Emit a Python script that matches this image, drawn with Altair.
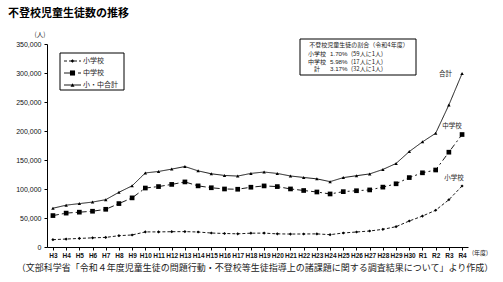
import altair as alt
import pandas as pd

years = ["H3", "H4", "H5", "H6", "H7", "H8", "H9", "H10", "H11", "H12", "H13", "H14",
         "H15", "H16", "H17", "H18", "H19", "H20", "H21", "H22", "H23", "H24", "H25",
         "H26", "H27", "H28", "H29", "H30", "R1", "R2", "R3", "R4"]
elementary = [12645, 13710, 14769, 15786, 16569, 19498, 20765, 26017, 26047, 26373, 26511,
              25869, 24077, 23318, 22709, 23825, 23927, 22652, 22327, 22463, 22622, 21243,
              24175, 25864, 27583, 30448, 35032, 44841, 53350, 63350, 81498, 105112]
junior = [54172, 58421, 60039, 61663, 65022, 74853, 84701, 101675, 104180, 107913, 112211,
          105383, 102149, 100040, 99578, 103069, 105328, 104153, 100105, 97428, 94836, 91446,
          95442, 97033, 98408, 103235, 108999, 119687, 127922, 132777, 163442, 193936]
total = [66817, 72131, 74808, 77449, 81591, 94351, 105466, 127692, 130227, 134286, 138722,
         131252, 126226, 123358, 122287, 126894, 129255, 126805, 122432, 119891, 117458, 112689,
         119617, 122897, 125991, 133683, 144031, 164528, 181272, 196127, 244940, 299048]
series_names = ["小学校", "中学校", "小・中合計"]
end_labels = ["小学校", "中学校", "合計"]
ratio_header = "不登校児童生徒の割合（令和4年度）"
ratio_labels = ["小学校", "中学校", "計"]
ratio_pcts = ["1.70%", "5.98%", "3.17%"]
ratio_notes = ["(59人に1人)", "(17人に1人)", "(32人に1人)"]
title_text = "不登校児童生徒数の推移"
unit_text = "(人)"
xunit_text = "(年度)"
source_text = "（文部科学省「令和４年度児童生徒の問題行動・不登校等生徒指導上の諸課題に関する調査結果について」より作成）"

JP = "Noto Sans CJK JP"
LAT = "Liberation Sans"

rows = []
for name, vals in zip(series_names, [elementary, junior, total]):
    for y, v in zip(years, vals):
        rows.append({"year": y, "series": name, "value": v})
df = pd.DataFrame(rows)

W, H = 421, 203

xenc = alt.X("year:O", sort=years, scale=alt.Scale(type="point", padding=0.45),
             axis=alt.Axis(title=None, labelAngle=0, labelFontSize=6.5, labelFontWeight="bold",
                           labelFont=LAT, labelColor="#111", domainColor="black",
                           tickColor="black", tickSize=3, labelPadding=2, labelOverlap=False))
yenc = alt.Y("value:Q", scale=alt.Scale(domain=[0, 350000], nice=False),
             axis=alt.Axis(title=None, values=list(range(0, 350001, 50000)), format=",.0f",
                           labelFontSize=7, labelFont=LAT, labelColor="#111", grid=False,
                           tickSize=3, domainColor="black", tickColor="black", labelPadding=3))

styles = {
    "小学校": dict(dash=[3, 2], shape="diamond", size=10),
    "中学校": dict(dash=[6, 3, 2, 3], shape="square", size=22),
    "小・中合計": dict(dash=[1, 0], shape="triangle-up", size=12),
}

layers = []
for name in series_names:
    st = styles[name]
    sub = alt.Chart(df).transform_filter(alt.datum.series == name)
    layers.append(sub.mark_line(color="black", strokeWidth=0.9, strokeDash=st["dash"]).encode(x=xenc, y=yenc))
    layers.append(sub.mark_point(color="black", filled=True, opacity=1, shape=st["shape"], size=st["size"]).encode(x=xenc, y=yenc))

# End labels anchored to the R4 points
end_df = pd.DataFrame({"year": ["R4"] * 3, "value": [elementary[-1], junior[-1], total[-1]], "label": end_labels})
end_offsets = [(-8, -8), (-10, -9), (-10, 0)]
for i, (dx, dy) in enumerate(end_offsets):
    layers.append(alt.Chart(end_df.iloc[[i]]).mark_text(font=JP, fontSize=6.5, color="#222", dx=dx, dy=dy,
                                                       align="center" if i < 2 else "right", baseline="middle")
                  .encode(x=xenc, y=yenc, text="label:N"))

one = pd.DataFrame({"k": [0]})

def txt(text, x, y, size, align="left", weight="normal", font=JP, color="black"):
    return alt.Chart(pd.DataFrame({"t": [text]})).mark_text(
        font=font, fontSize=size, align=align, baseline="middle", fontWeight=weight, color=color
    ).encode(x=alt.value(x), y=alt.value(y), text="t:N")

# legend box (decoration, in plot pixel coordinates)
layers.append(alt.Chart(one).mark_rect(fill="white", stroke="black", strokeWidth=1).encode(
    x=alt.value(13), x2=alt.value(77), y=alt.value(9), y2=alt.value(46)))
leg_y = [17, 29, 41]
for name, ly in zip(series_names, leg_y):
    st = styles[name]
    layers.append(alt.Chart(one).mark_rule(color="black", strokeWidth=0.9, strokeDash=st["dash"]).encode(
        x=alt.value(17), x2=alt.value(34), y=alt.value(ly)))
    layers.append(alt.Chart(one).mark_point(color="black", filled=True, opacity=1, shape=st["shape"],
                                            size=st["size"] + 4).encode(x=alt.value(25.5), y=alt.value(ly)))
    layers.append(txt(name, 36, ly, 7, color="#222"))

# ratio box
layers.append(alt.Chart(one).mark_rect(fill="white", stroke="black", strokeWidth=1).encode(
    x=alt.value(253), x2=alt.value(369), y=alt.value(-5), y2=alt.value(31)))
layers.append(txt(ratio_header, 312, 1, 6, align="center", color="#222"))
for i, ry in enumerate([10, 17.5, 25]):
    layers.append(txt(ratio_labels[i], 270, ry, 6, align="center", color="#222"))
    layers.append(txt(ratio_pcts[i], 283, ry, 6.2, font=LAT, color="#222"))
    layers.append(txt(ratio_notes[i], 304, ry, 6, color="#222"))

# outer texts
layers.append(txt(title_text, -39, -30, 11, weight="bold"))
layers.append(txt(unit_text, -7, -9, 6.5, align="center", color="#222"))
layers.append(txt(xunit_text, 425, 209, 6, color="#222"))
layers.append(txt(source_text, 208, 224, 9, align="center", color="#222"))

chart = alt.layer(*layers).properties(
    width=W, height=H,
    autosize=alt.AutoSizeParams(type="none"),
    padding={"left": 47, "top": 44, "right": 35, "bottom": 35},
    background="white",
).configure_view(stroke=None)

chart.save("out.html", embed_options={"renderer": "svg", "actions": False})
